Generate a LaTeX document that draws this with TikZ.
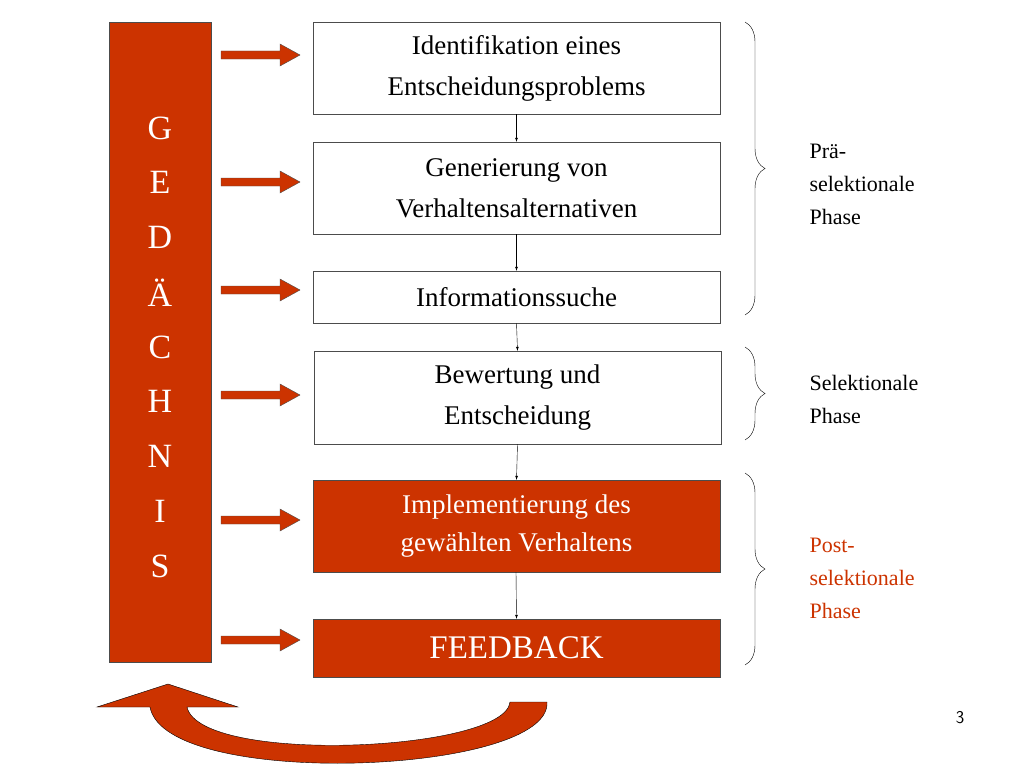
\documentclass[tikz,border=0pt]{standalone}
\usepackage{fontspec}
\setmainfont{Liberation Serif}
\usetikzlibrary{decorations.pathreplacing}
\definecolor{rust}{HTML}{CC3300}
\def\stepbox{\node[draw=black!70,fill=white,minimum width=407pt,align=center,font=\fontsize{27}{41}\selectfont]}
\def\redbox{\node[draw=black!70,fill=rust,text=white,minimum width=407pt,align=center,font=\fontsize{27}{38}\selectfont]}
\def\phase{\node[anchor=west,align=left,font=\fontsize{22}{33}\selectfont]}
\tikzset{
  flow/.style={-latex,black},
  brc/.style={decorate,decoration={brace,amplitude=20pt,aspect=0.5},thin},
}
\begin{document}
\begin{tikzpicture}[x=1pt,y=-1pt]
\useasboundingbox (0,0) rectangle (1024,768);
% memory bar
\node[draw=black!70,fill=rust,minimum width=102pt,minimum height=640pt,anchor=north west] (mem) at (109,22) {};
\foreach \ch [count=\i from 0] in {G,E,D,\"A,C,H,N,I,S}
  \node[white,font=\fontsize{34}{34}\selectfont] at (160,128+54.75*\i) {\ch};

% -------- steps ---------
\stepbox[minimum height=92pt] (s1) at (516.5,68) {Identifikation eines\\Entscheidungsproblems};
\stepbox[minimum height=92pt] (s2) at (516.5,188) {Generierung von\\Verhaltensalternativen};
\stepbox[minimum height=52pt] (s3) at (516.5,297) {Informationssuche};
\stepbox[minimum height=93pt] (s4) at (517.5,397.5) {Bewertung und\\Entscheidung};
\redbox[minimum height=92pt] (s5) at (516.5,526) {Implementierung des\\gew\"ahlten Verhaltens};
\redbox[minimum height=58pt,font=\fontsize{33}{33}\selectfont] (s6) at (516.5,648) {FEEDBACK};
\foreach \a/\b in {s1/s2,s2/s3,s3/s4,s4/s5}
  \draw[flow] (\a.south) -- (\b.north);
\draw[flow] (516,572) -- (s6.north);

% block arrows from memory
\foreach \y in {55,182,290,395,520,640}
  \draw[fill=rust,draw=black!70,thin] (221,\y-4) -- (280,\y-4) -- (280,\y-11) -- (300,\y)
    -- (280,\y+11) -- (280,\y+4) -- (221,\y+4) -- cycle;

% ----- phases
\draw[brc] (745,22) -- (745,315);
\draw[brc] (745,347) -- (745,440);
\draw[brc] (745,473) -- (745,665);
\phase (p1) at (806,184) {Pr\"a-\\selektionale\\Phase};
\phase (p2) at (806,399) {Selektionale\\Phase};
\phase[text=rust] (p3) at (806,578) {Post-\\selektionale\\Phase};

% feedback loop
\draw[fill=rust,draw=black,thin] (510,702) .. controls (505,752) and (200,765) .. (187,707)
  -- (238,707) -- (168,684) -- (97,707) -- (150,707)
  .. controls (165,790) and (552,775) .. (547,702) -- cycle;
\node[font=\sffamily\fontsize{18}{18}\selectfont] (pg) at (960,718) {3};
\end{tikzpicture}
\end{document}
